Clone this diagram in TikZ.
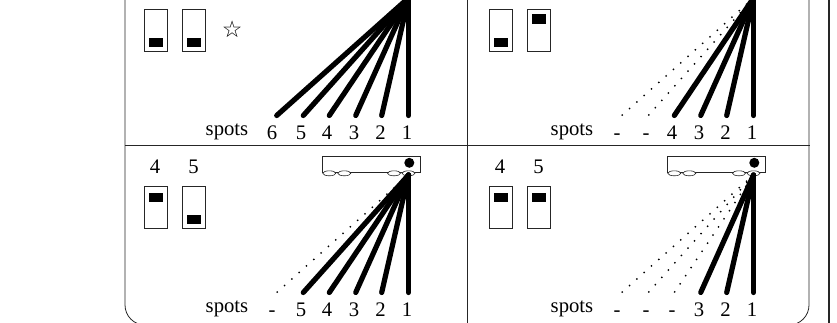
\documentclass[tikz,border=0pt]{standalone}
\usepackage{fontspec}
\setmainfont{Liberation Serif}
\newfontfamily\symfont{DejaVu Sans}
\usetikzlibrary{shapes.geometric}
\tikzset{
  x=1pt,y=-1pt,
  frameline/.style={draw=black!85,line width=0.8pt},
  edgeline/.style={draw=black!85,line width=1.8pt},
  switchbox/.style={draw=black!85,line width=0.7pt,fill=white},
  knob/.style={fill=black},
  beam/.style={line width=5.2pt,line cap=round,draw=black},
  offbeam/.style={line width=1.4pt,draw=black,dash pattern=on 1.4pt off 8.4pt},
  lab/.style={inner sep=0pt,anchor=base,font=\fontsize{20.7}{20.7}\selectfont},
  wheel/.style={draw=black!85,line width=0.6pt,fill=white,ellipse,minimum width=13pt,minimum height=5pt,inner sep=0pt},
}
\newcommand{\panelbeams}[4]{%
  \begin{scope}[shift={(#2,#3)}]
    \coordinate (#1apex) at (408.5,175);
    \coordinate (#1s1) at (408.5,292.5);
    \coordinate (#1s2) at (381.7,292.5);
    \coordinate (#1s3) at (355.7,292.5);
    \coordinate (#1s4) at (329.3,292.5);
    \coordinate (#1s5) at (303.3,292.5);
    \coordinate (#1s6) at (276.7,292.5);
    \node[lab] (#1spots) at (227,312) {spots};
    \foreach \i/\xx/\t in {1/407/1,2/380.5/2,3/354/3,4/327/4,5/301/5,6/272/6}{
      \ifnum\i>#4\relax
        \draw[offbeam] (#1s\i) -- (#1apex);
        \node[lab] (#1n\i) at (\xx,316) {-};
      \else
        \draw[beam] (#1s\i) -- (#1apex);
        \node[lab] (#1n\i) at (\xx,316) {\t};
      \fi
    }
  \end{scope}%
}
\newcommand{\switchpair}[5]{%
  \begin{scope}[shift={(#2,#3)}]
    \draw[switchbox] (144.3,186) rectangle (167,228);
    \fill[knob] (148.5,#4) rectangle (163,#4+9.5);
    \draw[switchbox] (182.8,186) rectangle (205.6,228);
    \fill[knob] (187,#5) rectangle (201.3,#5+9.5);
  \end{scope}%
}
\newcommand{\robot}[2]{%
  \begin{scope}[shift={(#2,0)}]
    \draw[switchbox] (322.3,156.3) rectangle (420,172);
    \fill (409.3,162.8) circle (5pt);
    \node[wheel] (#1wa) at (329.3,173.3) {};
    \node[wheel] (#1wb) at (344.3,173.3) {};
    \node[wheel] (#1wc) at (394,173.3) {};
    \node[wheel] (#1wd) at (408.5,173.3) {};
    \node[lab] (#1four) at (155,173) {4};
    \node[lab] (#1five) at (193.5,173) {5};
  \end{scope}%
}
\begin{document}
\begin{tikzpicture}
\clip (0,0) rectangle (837,322);
\fill[white] (0,0) rectangle (837,322);
% frame
\draw[frameline,rounded corners=20pt] (125,-5) -- (125,325) -- (809,325) -- (809,-5);
\draw[frameline] (125,145.7) -- (810,145.7);
\draw[frameline] (467,-5) -- (467,327);
\draw[edgeline] (829.3,-5) -- (829.3,327);
% panels
\switchpair{a}{0}{-177}{214.8}{214.8}
\panelbeams{a}{0}{-177}{6}
\node[inner sep=0pt,font=\symfont\fontsize{23}{23}\selectfont] (star) at (232.3,29) {☆};
\switchpair{b}{345}{-177}{214.8}{191}
\panelbeams{b}{345}{-177}{4}
\robot{c}{0}
\switchpair{c}{0}{0}{192.8}{214.8}
\panelbeams{c}{0}{0}{5}
\robot{d}{345}
\switchpair{d}{345}{0}{192.8}{192.8}
\panelbeams{d}{345}{0}{3}
\end{tikzpicture}
\end{document}
